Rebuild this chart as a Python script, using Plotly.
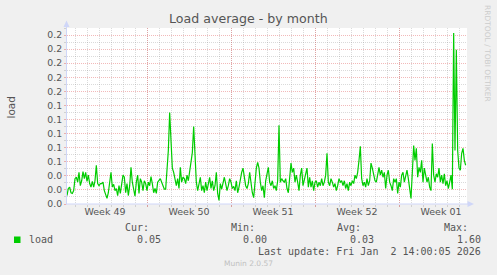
import plotly.graph_objects as go
import pandas as pd

# ---------------- data ----------------
TITLE = "Load average - by month"
Y_TITLE = "load"
SERIES_NAME = "load"
WEEK_LABELS = ["Week 49", "Week 50", "Week 51", "Week 52", "Week 01"]
WEEK_STARTS = ["2025-12-01", "2025-12-08", "2025-12-15", "2025-12-22", "2025-12-29"]
X_RANGE = ["2025-12-01 08:00", "2026-01-03 16:00"]
SERIES_START = "2025-12-01 08:00"
SERIES_STEP = "160min"
Y_RANGE = [0, 0.25]

LOAD = [
    0.012, 0.022, 0.024, 0.016, 0.015, 0.019, 0.036, 0.038, 0.031, 0.045,
    0.026, 0.033, 0.046, 0.036, 0.045, 0.032, 0.041, 0.029, 0.024, 0.032,
    0.024, 0.033, 0.055, 0.029, 0.026, 0.029, 0.029, 0.031, 0.019, 0.012,
    0.008, 0.016, 0.031, 0.045, 0.024, 0.028, 0.019, 0.022, 0.012, 0.026,
    0.015, 0.031, 0.041, 0.038, 0.016, 0.029, 0.012, 0.026, 0.052, 0.031,
    0.022, 0.011, 0.031, 0.041, 0.015, 0.036, 0.031, 0.019, 0.033, 0.029,
    0.019, 0.031, 0.026, 0.039, 0.029, 0.016, 0.022, 0.015, 0.031, 0.033,
    0.036, 0.031, 0.024, 0.021, 0.021, 0.048, 0.076, 0.130, 0.076, 0.051,
    0.045, 0.033, 0.026, 0.036, 0.022, 0.052, 0.031, 0.038, 0.036, 0.029,
    0.041, 0.033, 0.045, 0.062, 0.073, 0.110, 0.062, 0.031, 0.019, 0.029,
    0.038, 0.019, 0.026, 0.016, 0.031, 0.019, 0.029, 0.038, 0.022, 0.033,
    0.019, 0.026, 0.045, 0.015, 0.005, 0.029, 0.021, 0.031, 0.038, 0.029,
    0.019, 0.026, 0.036, 0.031, 0.022, 0.025, 0.019, 0.033, 0.016, 0.024,
    0.038, 0.045, 0.051, 0.041, 0.026, 0.022, 0.029,
    0.045, 0.026, 0.016, 0.009, 0.031, 0.051, 0.059, 0.051, 0.031, 0.019,
    0.026, 0.009, 0.033, 0.041, 0.052, 0.031, 0.026, 0.033, 0.022, 0.026,
    0.019, 0.033, 0.112, 0.031, 0.036, 0.033, 0.031, 0.036, 0.022, 0.016,
    0.038, 0.058, 0.045, 0.051, 0.031, 0.041, 0.031, 0.019, 0.041, 0.051,
    0.026, 0.033, 0.043, 0.051, 0.024, 0.038, 0.024, 0.033, 0.019, 0.031,
    0.033, 0.024, 0.031, 0.026, 0.036, 0.026, 0.031, 0.041, 0.072, 0.031,
    0.026, 0.036, 0.031, 0.024, 0.029, 0.019, 0.026, 0.036, 0.031, 0.033,
    0.026, 0.033, 0.022, 0.029, 0.019, 0.031, 0.026, 0.033, 0.029, 0.041,
    0.036, 0.045, 0.062, 0.082, 0.036, 0.026, 0.031, 0.024, 0.036, 0.026,
    0.033, 0.058, 0.051, 0.043, 0.033, 0.031, 0.045, 0.052, 0.041, 0.048,
    0.038, 0.045, 0.022, 0.041, 0.048, 0.031, 0.026, 0.019, 0.036, 0.031,
    0.036, 0.015, 0.031, 0.024, 0.041, 0.045, 0.031, 0.041, 0.048, 0.036,
    0.019, 0.008, 0.045, 0.083, 0.062, 0.079, 0.038, 0.052, 0.045, 0.062,
    0.031, 0.051, 0.041, 0.031, 0.038, 0.024, 0.019, 0.086, 0.041, 0.031,
    0.043, 0.038, 0.051, 0.031, 0.041, 0.029, 0.043, 0.026, 0.033, 0.022,
    0.031, 0.041, 0.021, 0.243, 0.076, 0.219, 0.076, 0.051, 0.048, 0.072,
    0.079, 0.062, 0.055,
]

STAT_HEADERS = ["Cur:", "Min:", "Avg:", "Max:"]
STAT_VALUES = ["0.05", "0.00", "0.03", "1.60"]
LAST_UPDATE = "Last update: Fri Jan\u00a0\u00a02 14:00:05 2026"
VERSION = "Munin 2.0.57"
WATERMARK = "RRDTOOL / TOBI OETIKER"

# ---------------- style ----------------
W, H = 497, 275
PL, PT, PW, PH = 67, 28, 400, 176
BG = "#F0F0F0"
FONT_COL = "#555555"
LINE_COL = "#00CC00"
AXIS_COL = "#CFD6F8"
MAJ_GRID = "rgba(222,79,79,0.40)"
MIN_GRID = "rgba(143,143,143,0.33)"
DASH = "1px,1px"


def px(x):
    return (x - PL) / PW


def py(y):
    return (PT + PH - y) / PH


times = pd.date_range(SERIES_START, periods=len(LOAD), freq=SERIES_STEP)
mid_weeks = [pd.Timestamp(s) + pd.Timedelta(hours=84) for s in WEEK_STARTS]

fig = go.Figure()
fig.add_trace(go.Scatter(x=times, y=LOAD, mode="lines", name=SERIES_NAME,
                         line=dict(color=LINE_COL, width=1.2), hoverinfo="skip",
                         showlegend=False))
fig.add_trace(go.Scatter(x=[], y=[], xaxis="x2", showlegend=False, hoverinfo="skip"))

tick_font = dict(family="DejaVu Sans", size=9.3, color=FONT_COL)

fig.update_layout(
    width=W, height=H, autosize=False,
    margin=dict(l=PL, r=W - PL - PW, t=PT, b=H - PT - PH, pad=0),
    paper_bgcolor=BG, plot_bgcolor="#FFFFFF",
    hovermode=False, showlegend=False,
    xaxis=dict(
        type="date", range=X_RANGE, tickmode="array", tickvals=WEEK_STARTS,
        showticklabels=False, showgrid=True, gridcolor=MAJ_GRID, griddash=DASH,
        gridwidth=1, ticks="outside", ticklen=2, tickcolor=MAJ_GRID,
        showline=False, zeroline=False,
        minor=dict(tick0="2025-12-01", dtick=86400000, showgrid=True,
                   gridcolor=MIN_GRID, griddash=DASH, gridwidth=1,
                   ticks="outside", ticklen=2, tickcolor=MIN_GRID),
    ),
    xaxis2=dict(
        type="date", range=X_RANGE, overlaying="x", anchor="y", side="bottom",
        tickmode="array", tickvals=mid_weeks, ticktext=WEEK_LABELS,
        showgrid=False, ticks="", showline=False, zeroline=False,
        tickfont=dict(family="DejaVu Sans", size=9.5, color=FONT_COL),
    ),
    yaxis=dict(
        range=Y_RANGE, tick0=0, dtick=0.02, tickformat=".1f",
        showgrid=True, gridcolor=MAJ_GRID, griddash=DASH, gridwidth=1,
        ticks="outside", ticklen=2, tickcolor=MAJ_GRID,
        showline=False, zeroline=False, tickfont=tick_font,
        minor=dict(dtick=0.01, showgrid=True, gridcolor=MIN_GRID, griddash=DASH,
                   gridwidth=1, ticks="outside", ticklen=2, tickcolor=MIN_GRID),
    ),
)

shapes = [
    # y axis line + arrow
    dict(type="line", xref="paper", yref="paper", x0=px(66.5), x1=px(66.5),
         y0=py(204.5), y1=py(24), line=dict(color=AXIS_COL, width=1)),
    dict(type="path", xref="paper", yref="paper",
         path=f"M {px(66.5)},{py(20.5)} L {px(63.5)},{py(27)} L {px(69.5)},{py(27)} Z",
         fillcolor=AXIS_COL, line=dict(color=AXIS_COL, width=0)),
    # x axis line + arrow
    dict(type="line", xref="paper", yref="paper", x0=px(66), x1=px(470),
         y0=py(204), y1=py(204), line=dict(color=AXIS_COL, width=1)),
    dict(type="path", xref="paper", yref="paper",
         path=f"M {px(474)},{py(204)} L {px(467.5)},{py(201)} L {px(467.5)},{py(207)} Z",
         fillcolor=AXIS_COL, line=dict(color=AXIS_COL, width=0)),
    # legend colour box
    dict(type="rect", xref="paper", yref="paper", x0=px(14), x1=px(20.5),
         y0=py(243), y1=py(236.5), fillcolor=LINE_COL, line=dict(width=0)),
]
fig.update_layout(shapes=shapes)

mono = dict(family="DejaVu Sans Mono", size=10, color=FONT_COL)
ann = []
ann.append(dict(text=TITLE, x=px(248), y=py(18.5), xanchor="center", yanchor="middle",
                font=dict(family="DejaVu Sans", size=12.6, color=FONT_COL)))
ann.append(dict(text=Y_TITLE, x=px(10.5), y=py(108), textangle=-90,
                xanchor="center", yanchor="middle",
                font=dict(family="DejaVu Sans", size=10.5, color=FONT_COL)))
ann.append(dict(text=WATERMARK, x=px(488), y=py(53), textangle=90,
                xanchor="center", yanchor="middle",
                font=dict(family="DejaVu Sans", size=7.5, color="#CCCCCC")))
header_right = [150.7, 257.3, 363.3, 470.0]
value_right = [162.7, 269.3, 375.7, 482.7]
for h, v, hr, vr in zip(STAT_HEADERS, STAT_VALUES, header_right, value_right):
    ann.append(dict(text=h, x=px(hr), y=py(227.7), xanchor="right", yanchor="middle", font=mono))
    ann.append(dict(text=v, x=px(vr), y=py(239.7), xanchor="right", yanchor="middle", font=mono))
ann.append(dict(text=SERIES_NAME, x=px(26.5), y=py(239.7), xanchor="left", yanchor="middle", font=mono))
ann.append(dict(text=LAST_UPDATE, x=px(483), y=py(251.7), xanchor="right", yanchor="middle", font=mono))
ann.append(dict(text=VERSION, x=px(248), y=py(263.7), xanchor="center", yanchor="middle",
                font=dict(family="DejaVu Sans", size=7.5, color="#C0C0C0")))
for a in ann:
    a.update(xref="paper", yref="paper", showarrow=False)
fig.update_layout(annotations=ann)

fig.write_html("out.html")
